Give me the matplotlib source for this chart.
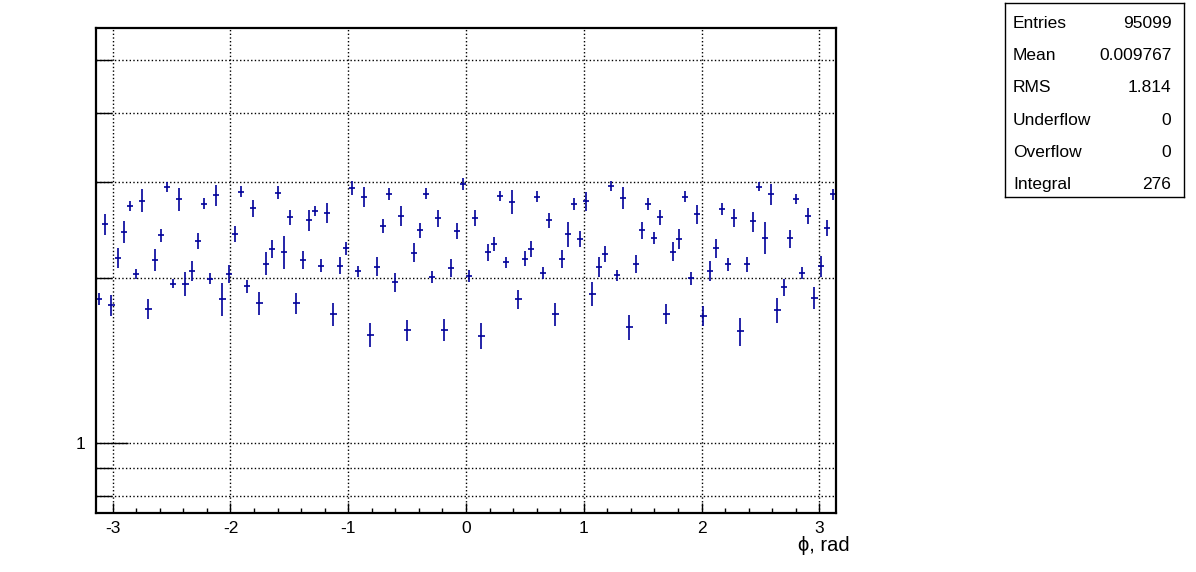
import numpy as np
import matplotlib
matplotlib.use('Agg')
import matplotlib.pyplot as plt
from matplotlib.ticker import FixedLocator, NullFormatter, FixedFormatter

plt.rcParams['font.family'] = ['Liberation Sans', 'DejaVu Sans']
plt.rcParams['axes.unicode_minus'] = False

# 120 bins over [-pi, pi]
n_bins = 120
x_lo, x_hi = -np.pi, np.pi

counts = [
    1.833, 2.509, 1.782, 2.176, 2.429, 2.711, 2.037, 2.769, 1.755, 2.161,
    2.392, 2.929, 1.953, 2.785, 1.953, 2.063, 2.338, 2.734, 1.994, 2.832,
    1.830, 2.037, 2.409, 2.876, 1.934, 2.681, 1.800, 2.125, 2.261, 2.864,
    2.232, 2.581, 1.800, 2.158, 2.548, 2.654, 2.107, 2.632, 1.720, 2.107,
    2.267, 2.917, 2.057, 2.816, 1.576, 2.098, 2.491, 2.848, 1.966, 2.599,
    1.608, 2.226, 2.446, 2.852, 2.006, 2.573, 1.608, 2.086, 2.439, 2.967,
    2.014, 2.577, 1.570, 2.229, 2.309, 2.824, 2.137, 2.753, 1.830, 2.170,
    2.264, 2.816, 2.043, 2.552, 1.718, 2.167, 2.409, 2.734, 2.358, 2.761,
    1.872, 2.098, 2.213, 2.950, 2.023, 2.804, 1.626, 2.125, 2.443, 2.730,
    2.368, 2.581, 1.720, 2.235, 2.358, 2.816, 1.997, 2.614, 1.708, 2.063,
    2.270, 2.677, 2.119, 2.577, 1.599, 2.119, 2.537, 2.938, 2.368, 2.844,
    1.747, 1.923, 2.362, 2.792, 2.043, 2.595, 1.841, 2.104, 2.470, 2.844,
]

errors = [
    0.044, 0.113, 0.080, 0.092, 0.116, 0.057, 0.043, 0.133, 0.074, 0.097,
    0.064, 0.062, 0.036, 0.133, 0.102, 0.087, 0.082, 0.065, 0.045, 0.124,
    0.126, 0.077, 0.078, 0.065, 0.052, 0.094, 0.089, 0.102, 0.083, 0.081,
    0.154, 0.080, 0.079, 0.082, 0.111, 0.056, 0.059, 0.115, 0.082, 0.074,
    0.064, 0.086, 0.046, 0.119, 0.080, 0.083, 0.077, 0.068, 0.078, 0.110,
    0.070, 0.088, 0.076, 0.064, 0.051, 0.091, 0.073, 0.076, 0.086, 0.075,
    0.051, 0.087, 0.088, 0.082, 0.072, 0.064, 0.048, 0.140, 0.075, 0.070,
    0.077, 0.067, 0.049, 0.079, 0.082, 0.085, 0.126, 0.069, 0.080, 0.113,
    0.095, 0.086, 0.072, 0.062, 0.048, 0.134, 0.087, 0.081, 0.089, 0.065,
    0.060, 0.084, 0.073, 0.088, 0.100, 0.063, 0.051, 0.099, 0.072, 0.084,
    0.090, 0.068, 0.060, 0.098, 0.095, 0.069, 0.107, 0.058, 0.160, 0.124,
    0.094, 0.065, 0.090, 0.059, 0.052, 0.088, 0.088, 0.092, 0.087, 0.068,
]

stats_names = ['Entries', 'Mean', 'RMS', 'Underflow', 'Overflow', 'Integral']
stats_values = ['95099', '0.009767', '1.814', '0', '0', '276']

x_major = [-3, -2, -1, 0, 1, 2, 3]
y_major = [1]
y_minor = [0.8, 0.9, 2, 3, 4, 5]

W, H = 1196, 572
fig = plt.figure(figsize=(W / 100, H / 100), dpi=100)
ax = fig.add_axes([96 / W, 1 - 513 / H, 740 / W, 485 / H])

edges = np.linspace(x_lo, x_hi, n_bins + 1)
centers = 0.5 * (edges[1:] + edges[:-1])
half_w = 0.5 * (edges[1] - edges[0])

col = '#000099'
ax.errorbar(centers, counts, xerr=half_w, yerr=errors, fmt='none',
            ecolor=col, elinewidth=1.2, capsize=0)

ax.set_yscale('log')
ax.set_xlim(x_lo, x_hi)
ax.set_ylim(0.745, 5.72)

ax.xaxis.set_major_locator(FixedLocator(x_major))
ax.xaxis.set_minor_locator(FixedLocator(np.arange(-3.0, 3.01, 0.2)))
ax.yaxis.set_major_locator(FixedLocator(y_major))
ax.yaxis.set_major_formatter(FixedFormatter(['1']))
ax.yaxis.set_minor_locator(FixedLocator(y_minor))
ax.yaxis.set_minor_formatter(NullFormatter())

ax.tick_params(axis='both', which='both', direction='in', top=False, right=False,
               labelsize=12.5, color='black', width=1)
ax.tick_params(axis='x', which='major', length=7.2, pad=6)
ax.tick_params(axis='x', which='minor', length=3.6)
ax.tick_params(axis='y', which='major', length=23, pad=8)
ax.tick_params(axis='y', which='minor', length=11.5)

ax.grid(True, axis='x', which='major', linestyle=':', color='black', linewidth=1)
ax.grid(True, axis='y', which='both', linestyle=':', color='black', linewidth=1)

for s in ax.spines.values():
    s.set_linewidth(1.6)

fig.text(850 / W, 1 - 551 / H, 'ϕ, rad', ha='right', va='baseline', fontsize=14.5)

# stats box
bx = fig.add_axes([1005 / W, 1 - 197 / H, 179 / W, 194 / H])
bx.set_xticks([])
bx.set_yticks([])
bx.set_xlim(0, 1)
bx.set_ylim(0, 1)
for s in bx.spines.values():
    s.set_linewidth(1)
for k, (name, val) in enumerate(zip(stats_names, stats_values)):
    yy = 1 - (k + 0.5) / len(stats_names) - 0.02
    bx.text(0.045, yy, name, ha='left', va='center', fontsize=12.5)
    bx.text(0.93, yy, val, ha='right', va='center', fontsize=12.5)

fig.savefig('out.png', dpi=100)
